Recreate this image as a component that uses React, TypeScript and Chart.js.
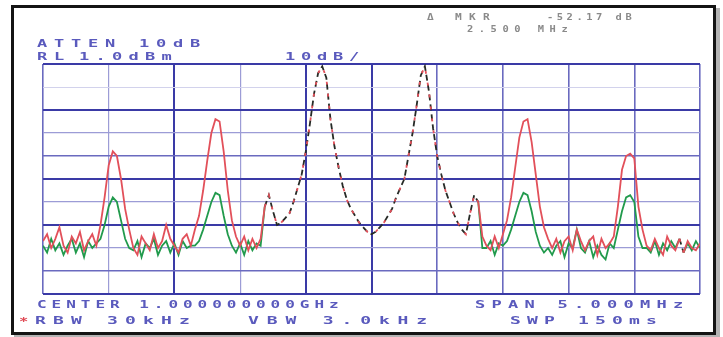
import React, { useEffect, useRef } from "react";
import { Chart, registerables } from "chart.js";

Chart.register(...registerables);

// Spectrum traces (dB relative to reference level), 161 sweep points
const RED_TRACE = [
  -77, -74, -80, -76, -71, -79, -82, -75, -78, -73, -81, -77, -74, -79,
  -70, -58, -44, -38, -40, -50, -63, -72,
  -80, -83, -75, -78, -81, -74, -80, -77,
  -70, -76,
  -79, -82, -76, -74, -79,
  -72, -66, -55, -42, -30, -24, -25, -38, -55, -68, -75,
  -79, -75, -81, -76, -80,
  -76, -62, -57, -64, -70,
  -69, -67, -65, -60, -54, -48, -38, -26, -13, -4, -1, -6, -24, -36, -45, -53, -59, -63, -66, -69, -71, -73, -74,
  -73, -71, -69, -66, -63, -58, -54, -50, -40, -30, -18, -5, -1, -12, -28, -40, -48, -55, -60, -65, -69, -72, -74,
  -65, -57, -60, -75,
  -79, -81, -75, -80,
  -74, -68, -58, -45, -32, -25, -24, -34, -48, -62, -71, -76,
  -80, -76, -82, -77, -75, -81,
  -72, -77,
  -81, -77, -75, -83, -76, -80, -78,
  -75, -62, -46, -40, -39, -41, -62, -72,
  -79, -81, -76, -80, -83, -75, -79, -81, -76, -82, -77, -80, -81, -78,
];

const GREEN_TRACE = [
  -79, -82, -76, -81, -78, -83, -79, -76, -82, -78, -84, -77, -80, -78,
  -76, -70, -62, -58, -60, -68, -76, -80,
  -81, -77, -84, -78, -80, -76, -83, -79,
  -77, -82,
  -78, -83, -77, -80, -79,
  -79, -77, -72, -66, -60, -56, -57, -66, -74, -79, -82,
  -78, -83, -77, -81, -78,
  -79, -62, -57, -64, -70,
  -69, -67, -65, -60, -54, -48, -38, -26, -13, -4, -1, -6, -24, -36, -45, -53, -59, -63, -66, -69, -71, -73, -74,
  -73, -71, -69, -66, -63, -58, -54, -50, -40, -30, -18, -5, -1, -12, -28, -40, -48, -55, -60, -65, -69, -72, -74,
  -65, -57, -60, -80,
  -80, -77, -83, -78,
  -79, -77, -72, -66, -60, -56, -57, -64, -73, -79, -82, -80,
  -83, -79, -77, -84, -78, -80,
  -72, -80,
  -82, -77, -84, -79, -83, -85, -78,
  -80, -72, -64, -58, -57, -60, -75, -80,
  -80, -82, -77, -83, -78, -81, -77, -80, -76, -82, -78, -81, -77, -80,
];

const CENTER_MHZ = 1000;
const SPAN_MHZ = 5;
const REF_DB = 0;
const DB_PER_DIV = 10;

// Grid line shades (x: left→right, y: bottom→top)
const X_GRID_SHADES = ["mid", "light", "dark", "light", "dark", "dark", "mid", "mid", "mid", "mid", "mid"];
const Y_GRID_SHADES = ["dark", "mid", "light", "dark", "light", "dark", "mid", "light", "dark", "faint", "dark"];

const SHADE_COLOR: Record<string, string> = {
  dark: "#3a3aa6",
  mid: "#6a6abf",
  light: "#9c9cd6",
  faint: "#d2d2ec",
};
const SHADE_WIDTH: Record<string, number> = { dark: 2, mid: 1.6, light: 1.2, faint: 1 };

const BLUE_TEXT = "#5a5abd";
const GRAY_TEXT = "#8a8a8a";

type TextItem = { t: string; x: number; y: number; pitch: number; color: string; size: number; sx: number };
const SCREEN_TEXT: TextItem[] = [
  { t: "ATTEN 10dB", x: 37, y: 44, pitch: 17, color: BLUE_TEXT, size: 10, sx: 1.7 },
  { t: "RL", x: 37, y: 57, pitch: 17, color: BLUE_TEXT, size: 10, sx: 1.7 },
  { t: "1.0dBm", x: 79, y: 57, pitch: 16.5, color: BLUE_TEXT, size: 10, sx: 1.7 },
  { t: "10dB/", x: 285, y: 57, pitch: 16, color: BLUE_TEXT, size: 10, sx: 1.7 },
  { t: "Δ MKR", x: 427, y: 18, pitch: 14, color: GRAY_TEXT, size: 8, sx: 1.4 },
  { t: "-52.17 dB", x: 547, y: 18, pitch: 9.8, color: GRAY_TEXT, size: 8, sx: 1.3 },
  { t: "2.500 MHz", x: 467, y: 30, pitch: 11.8, color: GRAY_TEXT, size: 8, sx: 1.3 },
  { t: "CENTER 1.000000000GHz", x: 37, y: 305, pitch: 14.6, color: BLUE_TEXT, size: 10, sx: 1.6 },
  { t: "SPAN 5.000MHz", x: 475, y: 305, pitch: 16.5, color: BLUE_TEXT, size: 10, sx: 1.7 },
  { t: "*", x: 19, y: 322, pitch: 10, color: "#e04a55", size: 11, sx: 1.4 },
  { t: "RBW 30kHz", x: 35, y: 321, pitch: 18, color: BLUE_TEXT, size: 10, sx: 1.8 },
  { t: "VBW 3.0kHz", x: 248, y: 321, pitch: 18.7, color: BLUE_TEXT, size: 10, sx: 1.8 },
  { t: "SWP 150ms", x: 510, y: 321, pitch: 17, color: BLUE_TEXT, size: 10, sx: 1.8 },
];

const RED = "#e2505a";
const GREEN = "#219a4c";
const DARK = "#262a26";

const freqOf = (i: number) => CENTER_MHZ - SPAN_MHZ / 2 + (i * SPAN_MHZ) / (RED_TRACE.length - 1);
const same = (i: number) => RED_TRACE[i] === GREEN_TRACE[i];

const framePlugin = {
  id: "frame",
  beforeDraw(chart: any) {
    const ctx = chart.ctx as CanvasRenderingContext2D;
    ctx.save();
    ctx.fillStyle = "#ffffff";
    ctx.fillRect(0, 0, chart.width, chart.height);
    ctx.fillStyle = "#b4b4b4";
    ctx.fillRect(716, 8, 4, 329);
    ctx.fillRect(14, 334, 706, 3);
    ctx.strokeStyle = "#141414";
    ctx.lineWidth = 3;
    ctx.strokeRect(12.5, 6.5, 702, 327);
    ctx.restore();
  },
  afterDraw(chart: any) {
    const ctx = chart.ctx as CanvasRenderingContext2D;
    ctx.save();
    ctx.textBaseline = "middle";
    ctx.textAlign = "left";
    for (const item of SCREEN_TEXT) {
      ctx.fillStyle = item.color;
      ctx.font = `bold ${item.size}px "DejaVu Sans Mono", monospace`;
      for (let k = 0; k < item.t.length; k++) {
        const ch = item.t[k];
        if (ch === " ") continue;
        ctx.save();
        ctx.translate(item.x + k * item.pitch, item.y);
        ctx.scale(item.sx, 1);
        ctx.fillText(ch, 0, 0);
        ctx.restore();
      }
    }
    ctx.restore();
  },
};

export default function App() {
  const canvasRef = useRef<HTMLCanvasElement | null>(null);

  useEffect(() => {
    if (!canvasRef.current) return;
    const redData = RED_TRACE.map((v, i) => ({ x: freqOf(i), y: v }));
    const greenData = GREEN_TRACE.map((v, i) => ({ x: freqOf(i), y: v }));

    const chart = new Chart(canvasRef.current, {
      type: "line",
      data: {
        datasets: [
          {
            label: "Max hold",
            data: redData,
            borderColor: RED,
            borderWidth: 1.8,
            pointRadius: 0,
            tension: 0,
            segment: {
              borderDash: (c: any) => (same(c.p0DataIndex) && same(c.p1DataIndex) ? [3, 9] : undefined),
            },
          },
          {
            label: "Trace",
            data: greenData,
            borderColor: GREEN,
            borderWidth: 1.8,
            pointRadius: 0,
            tension: 0,
            segment: {
              borderColor: (c: any) => (same(c.p0DataIndex) && same(c.p1DataIndex) ? DARK : undefined),
              borderDash: (c: any) => (same(c.p0DataIndex) && same(c.p1DataIndex) ? [6, 4] : undefined),
            },
          },
        ],
      },
      options: {
        responsive: false,
        animation: false,
        events: [],
        layout: { padding: { left: 43, right: 23, top: 64, bottom: 43 } },
        plugins: { legend: { display: false }, tooltip: { enabled: false }, title: { display: false } },
        scales: {
          x: {
            type: "linear",
            min: CENTER_MHZ - SPAN_MHZ / 2,
            max: CENTER_MHZ + SPAN_MHZ / 2,
            ticks: { display: false, stepSize: SPAN_MHZ / 10 },
            grid: {
              drawTicks: false,
              color: (c: any) => SHADE_COLOR[X_GRID_SHADES[c.index] || "mid"],
              lineWidth: (c: any) => SHADE_WIDTH[X_GRID_SHADES[c.index] || "mid"],
            },
            border: { display: false },
          },
          y: {
            type: "linear",
            min: REF_DB - DB_PER_DIV * 10,
            max: REF_DB,
            ticks: { display: false, stepSize: DB_PER_DIV },
            grid: {
              drawTicks: false,
              color: (c: any) => SHADE_COLOR[Y_GRID_SHADES[c.index] || "mid"],
              lineWidth: (c: any) => SHADE_WIDTH[Y_GRID_SHADES[c.index] || "mid"],
            },
            border: { display: false },
          },
        },
      },
      plugins: [framePlugin],
    });
    return () => chart.destroy();
  }, []);

  return (
    <div style={{ position: "fixed", left: 0, top: 0, width: 723, height: 337, background: "#fff" }}>
      <canvas ref={canvasRef} width={723} height={337} style={{ width: 723, height: 337, display: "block" }} />
    </div>
  );
}
